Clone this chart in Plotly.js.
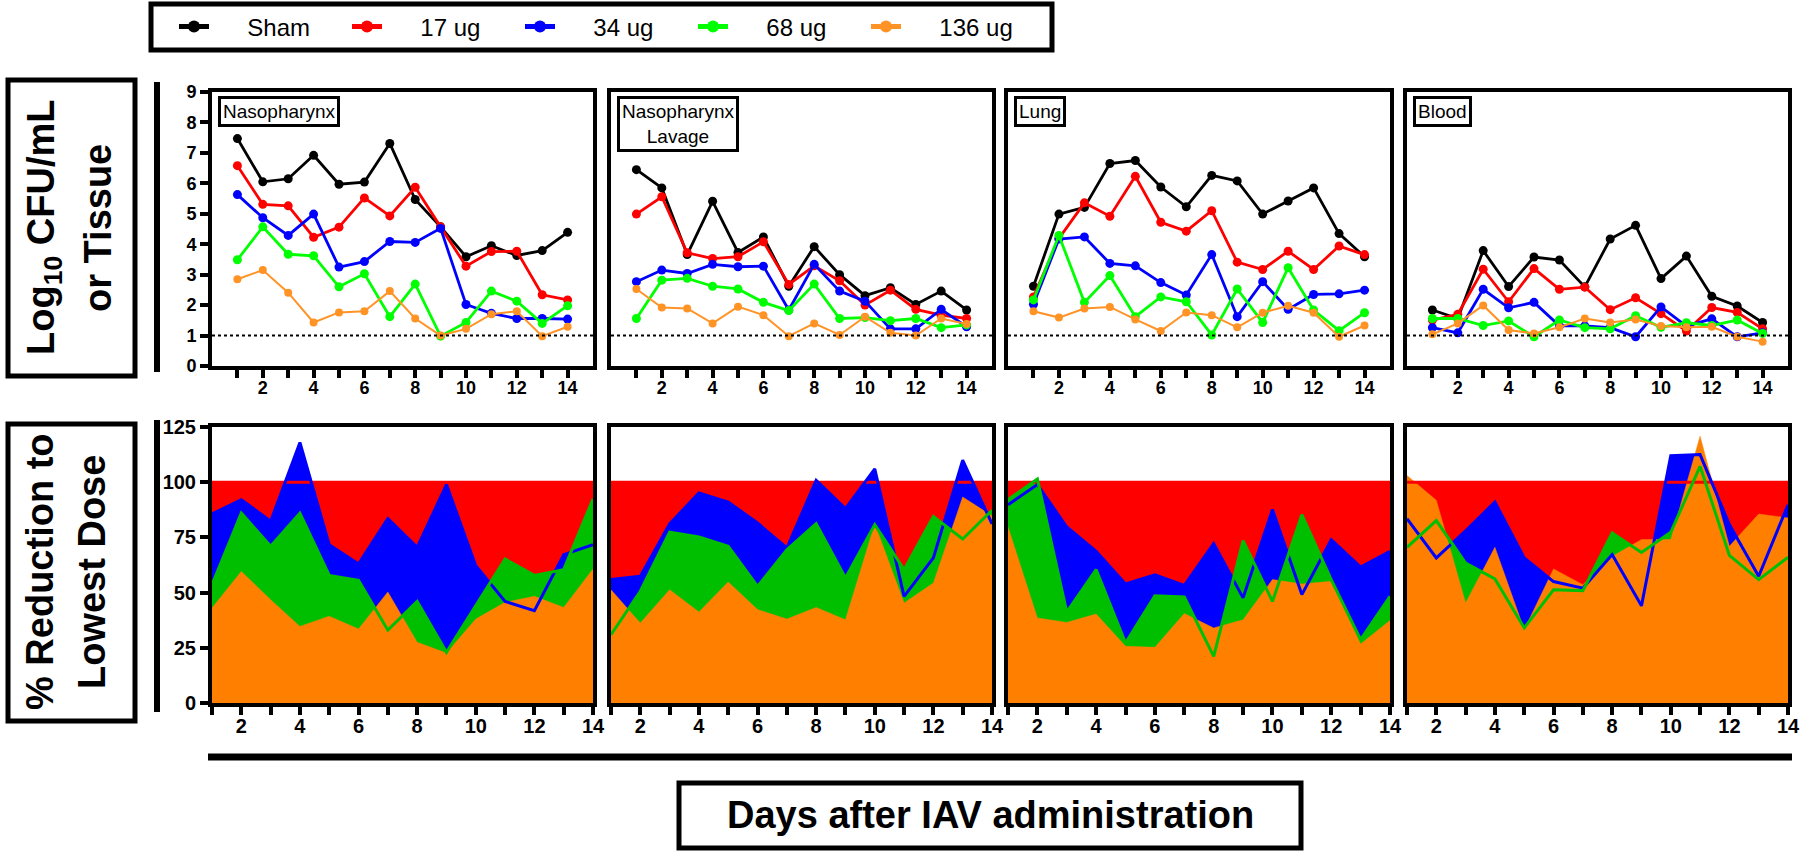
<!DOCTYPE html>
<html><head><meta charset="utf-8">
<script src="https://cdn.plot.ly/plotly-3.0.1.min.js"></script>
<style>html,body{margin:0;padding:0;background:#fff}#chart{width:1800px;height:857px}</style>
</head><body><div id="chart"></div>
<script>
// ---------- DATA ----------
const days = [1,2,3,4,5,6,7,8,9,10,11,12,13,14];
const xTickVals = [2,4,6,8,10,12,14];
const xTickText = ['2','4','6','8','10','12','14'];
const groupNames = ['Sham','17 ug','34 ug','68 ug','136 ug'];
const panelNames = ['Nasopharynx','Nasopharynx<br>Lavage','Lung','Blood'];

// Log10 CFU/mL or Tissue
const nasoSham = [7.47,6.05,6.15,6.92,5.97,6.04,7.31,5.47,4.57,3.59,3.95,3.63,3.79,4.39];
const naso17   = [6.58,5.31,5.26,4.23,4.56,5.52,4.93,5.87,4.57,3.28,3.76,3.77,2.34,2.17];
const naso34   = [5.63,4.87,4.29,4.99,3.25,3.43,4.09,4.06,4.52,2.02,1.73,1.56,1.56,1.54];
const naso68   = [3.49,4.57,3.67,3.62,2.60,3.03,1.62,2.69,0.98,1.43,2.46,2.13,1.40,1.98];
const naso136  = [2.85,3.15,2.41,1.43,1.76,1.80,2.46,1.56,1.00,1.22,1.70,1.80,0.98,1.29];

const lavSham = [6.45,5.85,3.66,5.41,3.73,4.24,2.62,3.92,3.00,2.31,2.57,2.02,2.46,1.84];
const lav17   = [4.99,5.56,3.72,3.53,3.59,4.08,2.68,3.29,2.80,2.00,2.49,1.86,1.67,1.56];
const lav34   = [2.77,3.15,3.04,3.34,3.26,3.28,1.84,3.34,2.46,2.13,1.22,1.22,1.86,1.29];
const lav68   = [1.56,2.82,2.88,2.62,2.53,2.09,1.82,2.69,1.56,1.59,1.49,1.56,1.26,1.35];
const lav136  = [2.53,1.92,1.89,1.40,1.95,1.67,0.98,1.40,1.02,1.62,1.09,1.00,1.56,1.38];

const lungSham = [2.62,4.99,5.21,6.65,6.75,5.88,5.23,6.26,6.08,4.99,5.42,5.85,4.35,3.59];
const lung17   = [2.27,4.19,5.36,4.92,6.23,4.72,4.43,5.10,3.41,3.17,3.77,3.17,3.94,3.66];
const lung34   = [2.03,4.17,4.24,3.37,3.29,2.74,2.33,3.66,1.62,2.77,1.86,2.35,2.37,2.49];
const lung68   = [2.17,4.29,2.09,2.97,1.62,2.27,2.11,1.02,2.53,1.43,3.23,1.84,1.16,1.75];
const lung136  = [1.80,1.59,1.89,1.94,1.53,1.15,1.76,1.67,1.27,1.75,1.98,1.75,0.96,1.33];

const bloodSham = [1.84,1.56,3.79,2.61,3.58,3.48,2.60,4.17,4.62,2.87,3.61,2.29,1.97,1.43];
const blood17   = [1.51,1.70,3.18,2.11,3.20,2.52,2.59,1.85,2.24,1.72,1.15,1.92,1.76,1.22];
const blood34   = [1.26,1.09,2.52,1.91,2.09,1.32,1.32,1.26,0.96,1.94,1.31,1.55,0.96,1.09];
const blood68   = [1.56,1.56,1.33,1.48,0.96,1.51,1.26,1.22,1.65,1.27,1.42,1.33,1.51,1.07];
const blood136  = [1.04,1.40,1.99,1.18,1.07,1.27,1.56,1.43,1.53,1.31,1.27,1.29,0.96,0.80];

const detectionLimit = 1;

// % Reduction to Lowest Dose
const pct17 = [100,100,100,100,100,100,100,100,100,100,100,100,100,100];
const nasoPct34  = [85.6,92.1,82.3,118,71.7,63,83.5,70.5,98.9,62.2,46,41.8,67.2,71.7];
const nasoPct68  = [53.6,86,71,86,57.8,55.6,33,46,23,44,65.2,57.8,60.4,92.4];
const nasoPct136 = [43,59.6,46.8,34.7,39.3,33.5,50.3,27.5,22.6,38,45.6,48.3,43.3,60.7];

const lavPct34  = [55.9,57.4,81.1,95.1,91,81.5,70.2,100.8,88,106,48.3,65.7,110,81.1];
const lavPct68  = [31,50.6,77.4,75.2,71,52.8,69.4,81.2,56.6,80.8,60.4,84.5,74.3,87.3];
const lavPct136 = [51.3,36.2,51.3,41.2,54.8,42.3,38,43.3,37.7,81.1,45.3,54.3,93.3,84.8];

const lungPct34  = [89.8,98.9,79.7,68.7,53.9,58.1,53.3,72.2,47.6,87.6,49.1,74,61.6,68.7];
const lungPct68  = [92.1,101.4,41.2,60.4,27.2,48.6,48,21.1,73.5,46,85.3,55.9,28.7,48.3];
const lungPct136 = [79.7,38.5,36.5,40.3,25.7,25.2,40.5,34,37.7,55.9,53.9,55.1,26.7,37.4];

const bloodPct34  = [83.5,65.7,78,91,65.7,55,52,67.2,44,112,112.5,80.8,57.4,89.8];
const bloodPct68  = [70.5,82.6,63.4,56.2,34,51.3,50.9,77,68.2,77.3,107.2,66.9,55.9,66];
const bloodPct136 = [103,91.8,45.3,70.5,33.2,60.7,53.6,66.4,74,74,120.8,71,85.6,83.8];

// ---------- BUILD ----------
const topSets = [
  [nasoSham,naso17,naso34,naso68,naso136],
  [lavSham,lav17,lav34,lav68,lav136],
  [lungSham,lung17,lung34,lung68,lung136],
  [bloodSham,blood17,blood34,blood68,blood136]
];
const botSets = [
  [pct17,nasoPct34,nasoPct68,nasoPct136],
  [pct17,lavPct34,lavPct68,lavPct136],
  [pct17,lungPct34,lungPct68,lungPct136],
  [pct17,bloodPct34,bloodPct68,bloodPct136]
];
const topColors = ['#000000','#FF0000','#0000FF','#00FF00','#FF9326'];
const botColors = ['#FF0000','#0000FF','#00BF00','#FF8000'];

const W = 1800, H = 857;
const px = v => v / W;
const py = v => 1 - v / H;
const xDomains = [[212,593],[611,992],[1008,1390],[1407,1788]];
const topY = [92,366], botY = [427,703];
const gapPad = '\u00A0\u00A0\u00A0\u00A0\u00A0';

const traces = [];
topSets.forEach((set, p) => {
  const n = p + 1;
  set.forEach((vals, g) => {
    traces.push({
      type:'scatter', mode:'lines+markers', x: days, y: vals,
      xaxis:'x'+n, yaxis:'y'+n, name: gapPad + groupNames[g], legendgroup: groupNames[g],
      showlegend: p === 0,
      line:{color: topColors[g], width: g === 4 ? 2 : 2.8},
      marker:{color: topColors[g], size: g === 4 ? 8 : 9},
      cliponaxis:false, hoverinfo:'skip'
    });
  });
});
botSets.forEach((set, p) => {
  const n = p + 5;
  set.forEach((vals, g) => {
    traces.push({
      type:'scatter', mode:'lines', x: days, y: vals, fill:'tozeroy',
      xaxis:'x'+n, yaxis:'y'+n, showlegend:false,
      fillcolor: botColors[g], line:{color: botColors[g], width: 0.5},
      hoverinfo:'skip'
    });
  });
  [0,1,2].forEach(g => {
    traces.push({
      type:'scatter', mode:'lines', x: days, y: set[g],
      xaxis:'x'+n, yaxis:'y'+n, showlegend:false,
      line:{color: botColors[g], width: 3}, hoverinfo:'skip', cliponaxis:false
    });
  });
});

const tickFont = {family:'Liberation Sans, Arial, sans-serif', size:18, color:'#000', weight:700};
const layout = {
  width: W, height: H, margin:{l:0,r:0,t:0,b:0},
  paper_bgcolor:'#fff', plot_bgcolor:'#fff', showlegend:true,
  legend:{orientation:'h', x: px(174), y: py(27), xanchor:'left', yanchor:'middle',
    borderwidth:0, bgcolor:'rgba(0,0,0,0)',
    font:{family:'Liberation Sans, Arial, sans-serif', size:24, color:'#000'},
    entrywidth:128, entrywidthmode:'pixels', itemsizing:'constant'},
  shapes:[], annotations:[]
};
for (let p = 0; p < 4; p++) {
  const d = [px(xDomains[p][0]), px(xDomains[p][1])];
  const axBase = {showline:true, linecolor:'#000', linewidth:4, mirror:true, showgrid:false,
    zeroline:false, ticks:'outside', ticklen:8, tickwidth:4, tickcolor:'#000', tickfont:tickFont};
  const xBase = {tickmode:'array', tickvals:xTickVals, ticktext:xTickText, ticklabelstandoff:-6,
    minor:{tickmode:'array', tickvals:days, ticks:'outside', ticklen:8, tickwidth:4, tickcolor:'#000'}};
  layout['xaxis'+(p+1)] = Object.assign({}, axBase, xBase, {domain:d, anchor:'y'+(p+1), range:[0,15]});
  layout['yaxis'+(p+1)] = Object.assign({}, axBase, {domain:[py(topY[1]), py(topY[0])], anchor:'x'+(p+1),
    range:[0,9], dtick:1, showticklabels: p===0, ticks: p===0 ? 'outside' : ''});
  layout['xaxis'+(p+5)] = Object.assign({}, axBase, xBase, {domain:d, anchor:'y'+(p+5), range:[1,14],
    tickfont:Object.assign({},tickFont,{size:20})});
  layout['yaxis'+(p+5)] = Object.assign({}, axBase, {domain:[py(botY[1]), py(botY[0])], anchor:'x'+(p+5),
    range:[0,125], dtick:25, showticklabels: p===0, ticks: p===0 ? 'outside' : '',
    tickfont:Object.assign({},tickFont,{size:20})});
  // detection limit
  layout.shapes.push({type:'line', xref:'x'+(p+1)+' domain', x0:0, x1:1, yref:'y'+(p+1),
    y0:detectionLimit, y1:detectionLimit, line:{color:'#000', width:2, dash:'dot'}});
  // panel label
  layout.annotations.push({xref:'x'+(p+1)+' domain', yref:'y'+(p+1)+' domain', x:0.017, y:0.985,
    xanchor:'left', yanchor:'top', text:panelNames[p], showarrow:false, align:'center',
    font:{family:'Liberation Sans, Arial, sans-serif', size:19, color:'#000'},
    bordercolor:'#000', borderwidth:3, borderpad:2, bgcolor:'#fff'});
}
// decorative bars and boxes
const S = layout.shapes;
S.push({type:'rect', xref:'paper', yref:'paper', x0:px(151), x1:px(1052), y0:py(4), y1:py(50), line:{color:'#000', width:5}, layer:'below'});
S.push({type:'line', xref:'paper', yref:'paper', x0:px(157), x1:px(157), y0:py(82), y1:py(372), line:{color:'#000', width:6}});
S.push({type:'line', xref:'paper', yref:'paper', x0:px(157), x1:px(157), y0:py(420), y1:py(712), line:{color:'#000', width:6}});
S.push({type:'line', xref:'paper', yref:'paper', x0:px(208), x1:px(1792), y0:py(757), y1:py(757), line:{color:'#000', width:7}});
S.push({type:'rect', xref:'paper', yref:'paper', x0:px(8), x1:px(135), y0:py(80), y1:py(376), line:{color:'#000', width:5}});
S.push({type:'rect', xref:'paper', yref:'paper', x0:px(8), x1:px(135), y0:py(424), y1:py(721), line:{color:'#000', width:5}});
S.push({type:'rect', xref:'paper', yref:'paper', x0:px(679), x1:px(1301), y0:py(783), y1:py(848), line:{color:'#000', width:5}});

const titleFont = {family:'Liberation Sans, Arial, sans-serif', size:38, color:'#000', weight:700};
const A = layout.annotations;
A.push({xref:'paper', yref:'paper', x:px(44), y:py(228), text:'Log<sub>10</sub> CFU/mL', textangle:-90, showarrow:false, font:titleFont, xanchor:'center', yanchor:'middle'});
A.push({xref:'paper', yref:'paper', x:px(98), y:py(228), text:'or Tissue', textangle:-90, showarrow:false, font:titleFont, xanchor:'center', yanchor:'middle'});
A.push({xref:'paper', yref:'paper', x:px(40), y:py(572), text:'% Reduction to', textangle:-90, showarrow:false, font:titleFont, xanchor:'center', yanchor:'middle'});
A.push({xref:'paper', yref:'paper', x:px(92), y:py(572), text:'Lowest Dose', textangle:-90, showarrow:false, font:titleFont, xanchor:'center', yanchor:'middle'});
A.push({xref:'paper', yref:'paper', x:px(990), y:py(815), text:'Days after IAV administration', showarrow:false, font:titleFont, xanchor:'center', yanchor:'middle'});

Plotly.newPlot('chart', traces, layout, {staticPlot:true});
</script></body></html>
